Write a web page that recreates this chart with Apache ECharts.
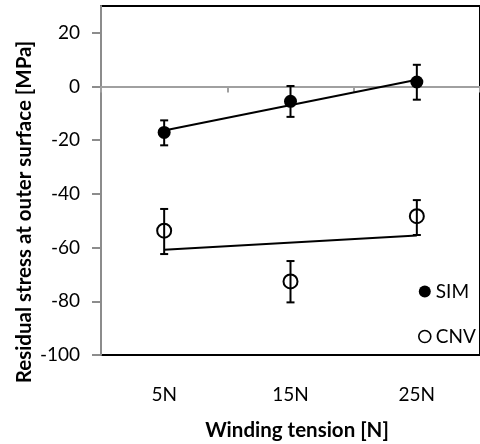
<!DOCTYPE html>
<html>
<head>
<meta charset="utf-8">
<script src="https://cdn.jsdelivr.net/npm/echarts@6/dist/echarts.min.js"></script>
<style>
  html, body { margin: 0; padding: 0; background: #fff; }
  #chart { width: 480px; height: 444px; }
</style>
</head>
<body>
<div id="chart"></div>
<script>
// categories / ticks
const tensions = ['5N', '15N', '25N']
const yTicks = [-100, -80, -60, -40, -20, 0, 20]

// SIM
const simMean = [-17.1, -5.5, 1.7]
const simLow = [-21.9, -11.3, -4.9]
const simHigh = [-12.6, 0.2, 8.1]
const simTrend = [-16.4, '-', 2.5]

// CNV
const cnvMean = [-53.7, -72.6, -48.3]
const cnvLow = [-62.4, -80.4, -55.3]
const cnvHigh = [-45.6, -65.0, -42.3]
const cnvTrend = [-60.8, '-', -55.5]

const FONT = 'Lato'

function errorData(low, high) {
  return low.map((lo, i) => [i, lo, high[i]])
}

function renderError(params, api) {
  const top = api.coord([api.value(0), api.value(2)])
  const bot = api.coord([api.value(0), api.value(1)])
  const cap = 4
  const style = { stroke: '#000', lineWidth: 2 }
  return {
    type: 'group',
    children: [
      { type: 'line', shape: { x1: top[0], y1: top[1], x2: bot[0], y2: bot[1] }, style },
      { type: 'line', shape: { x1: top[0] - cap, y1: top[1], x2: top[0] + cap, y2: top[1] }, style },
      { type: 'line', shape: { x1: bot[0] - cap, y1: bot[1], x2: bot[0] + cap, y2: bot[1] }, style },
    ],
  }
}

const chart = echarts.init(document.getElementById('chart'))
chart.setOption({
  animation: false,
  grid: {
    show: true,
    borderColor: '#000',
    borderWidth: 2,
    left: 101,
    right: -8,
    top: 6,
    bottom: 89,
  },
  legend: {
    orient: 'vertical',
    left: 413,
    top: 277,
    itemWidth: 12,
    itemHeight: 12,
    itemGap: 26,
    data: [
      { name: 'SIM' },
      { name: 'CNV', itemStyle: { borderWidth: 1.6 } },
    ],
    textStyle: { fontFamily: FONT, fontSize: 19, color: '#000' },
  },
  xAxis: [
    {
      type: 'category',
      data: tensions,
      axisLine: { onZero: true, lineStyle: { color: '#a0a0a0', width: 2 } },
      axisTick: { show: true, length: 6, lineStyle: { color: '#a0a0a0', width: 2 } },
      axisLabel: { show: false },
    },
    {
      type: 'category',
      data: tensions,
      position: 'bottom',
      axisLine: { show: false, onZero: false },
      axisTick: { show: false },
      axisLabel: { margin: 30, fontFamily: FONT, fontSize: 19, color: '#000' },
    },
  ],
  yAxis: {
    type: 'value',
    min: -100,
    max: 30,
    interval: 20,
    splitLine: { show: false },
    axisLine: { show: true, lineStyle: { color: '#8c8c8c', width: 2 } },
    axisTick: { show: true, length: 9, customValues: yTicks, lineStyle: { color: '#8c8c8c', width: 2 } },
    axisLabel: { margin: 21, customValues: yTicks, fontFamily: FONT, fontSize: 19, color: '#000' },
  },
  graphic: [
    {
      type: 'text',
      x: 24,
      y: 212,
      rotation: Math.PI / 2,
      style: {
        text: 'Residual stress at outer surface [MPa]',
        fontFamily: FONT,
        fontWeight: 'bold',
        fontSize: 20.5,
        fill: '#000',
        align: 'center',
        verticalAlign: 'middle',
      },
    },
    {
      type: 'text',
      x: 297,
      y: 430,
      style: {
        text: 'Winding tension [N]',
        fontFamily: FONT,
        fontWeight: 'bold',
        fontSize: 20.5,
        fill: '#000',
        align: 'center',
        verticalAlign: 'middle',
      },
    },
  ],
  series: [
    {
      name: 'SIM trend',
      type: 'line',
      data: simTrend,
      connectNulls: true,
      showSymbol: false,
      lineStyle: { color: '#000', width: 2 },
      silent: true,
    },
    {
      name: 'CNV trend',
      type: 'line',
      data: cnvTrend,
      connectNulls: true,
      showSymbol: false,
      lineStyle: { color: '#000', width: 2 },
      silent: true,
    },
    {
      name: 'SIM err',
      type: 'custom',
      data: errorData(simLow, simHigh),
      encode: { x: 0, y: [1, 2] },
      renderItem: renderError,
      z: 3,
    },
    {
      name: 'CNV err',
      type: 'custom',
      data: errorData(cnvLow, cnvHigh),
      encode: { x: 0, y: [1, 2] },
      renderItem: renderError,
      z: 3,
    },
    {
      name: 'SIM',
      type: 'scatter',
      data: simMean,
      symbol: 'circle',
      symbolSize: 13,
      itemStyle: { color: '#000', opacity: 1 },
      z: 4,
    },
    {
      name: 'CNV',
      type: 'scatter',
      data: cnvMean,
      symbol: 'circle',
      symbolSize: 14,
      itemStyle: { color: 'rgba(255,255,255,0)', borderColor: '#000', borderWidth: 2, opacity: 1 },
      z: 4,
    },
  ],
})
</script>
</body>
</html>
